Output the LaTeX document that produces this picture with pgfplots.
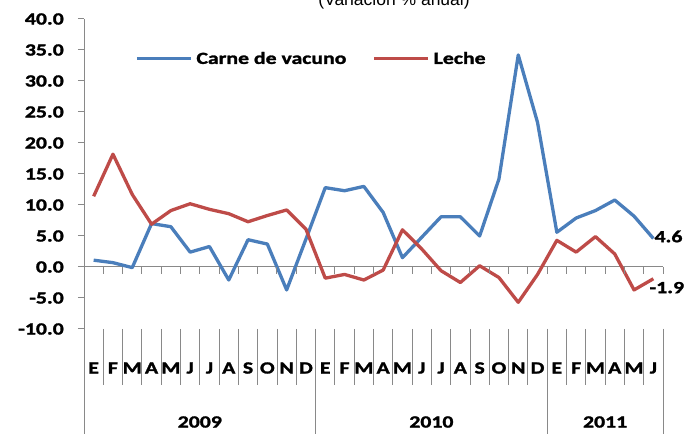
\documentclass[border=0pt]{standalone}
\usepackage{pgfplots}
\pgfplotsset{compat=1.18}
\usepackage{fontspec}
\setmainfont{Carlito}
\newfontfamily\lbl[FakeStretch=1.28, BoldFeatures={FakeBold=1.6}]{Carlito}
\newfontfamily\ttl{Liberation Sans}
\usetikzlibrary{calc}
\newcommand\lblfont{\lbl\bfseries\fontsize{17bp}{20bp}\selectfont}
\definecolor{axgray}{HTML}{898989}
\definecolor{cblue}{HTML}{4A7EBB}
\definecolor{cred}{HTML}{BE4B48}

\pgfplotstableread{
i carne leche
0 1.1 11.4
1 0.7 18.2
2 -0.1 11.7
3 7.0 6.9
4 6.5 9.1
5 2.4 10.2
6 3.3 9.3
7 -2.1 8.6
8 4.4 7.3
9 3.7 8.3
10 -3.7 9.2
11 4.5 6.1
12 12.8 -1.8
13 12.3 -1.2
14 13.0 -2.1
15 8.8 -0.5
16 1.5 6.0
17 4.8 2.9
18 8.1 -0.6
19 8.1 -2.5
20 5.0 0.2
21 14.2 -1.7
22 34.2 -5.7
23 23.3 -1.2
24 5.6 4.3
25 7.9 2.4
26 9.1 4.9
27 10.8 2.1
28 8.2 -3.7
29 4.6 -1.9
}\datatable

\begin{document}
\begin{tikzpicture}
\useasboundingbox (0,0) rectangle (684bp,434bp);
\node[anchor=base, font=\ttl\fontsize{17.5bp}{20bp}\selectfont] at (394bp,428bp) {(Variación \% anual)};
\begin{axis}[
  at={(84bp,105bp)}, anchor=south west,
  scale only axis, width=579bp, height=310bp,
  xmin=-0.5, xmax=29.5, ymin=-10, ymax=40,
  axis x line=none, axis y line*=left,
  axis line style={-, draw=axgray, line width=1bp},
  xtick=\empty,
  ytick={-10,-5,...,40},
  yticklabels={-10.0,-5.0,0.0,5.0,10.0,15.0,20.0,25.0,30.0,35.0,40.0},
  ytick style={draw=axgray, line width=1bp},
  tick align=outside, major tick length=6bp,
  yticklabel style={font=\lblfont, inner xsep=0pt, xshift=-14bp},
  clip=false,
  legend style={at={(0.088,0.872)}, anchor=west, draw=none, fill=none,
    inner sep=0pt, font=\lblfont, legend columns=2,
    /tikz/every even column/.append style={column sep=22bp},
    nodes={inner xsep=4bp}},
  legend image code/.code={\draw[#1] (0bp,0bp) -- (54bp,0bp);},
]
\coordinate (Z0) at (axis cs:-0.5,0);
\coordinate (Z1) at (axis cs:29.5,0);
\draw[axgray, line width=1bp] (Z0) -- (Z1);
\addplot[cblue, line width=3.3bp, line join=round] table[x=i, y=carne] {\datatable};
\addlegendentry{Carne de vacuno}
\addplot[cred, line width=3.3bp, line join=round] table[x=i, y=leche] {\datatable};
\addlegendentry{Leche}
\node[font=\lblfont, anchor=west, inner sep=0pt, yshift=2bp, xshift=1bp] at (axis cs:29,4.6) {4.6};
\node[font=\lblfont, anchor=north west, inner sep=0pt, yshift=-3bp, xshift=-4bp] at (axis cs:29,-1.9) {-1.9};
\end{axis}
\foreach \j in {0,...,30} {
  \draw[axgray, line width=1bp] ($(Z0)!\j/30!(Z1)$) -- ++(0,-7bp);
  \draw[axgray, line width=1bp] ({84bp+19.3bp*\j},105bp) -- ({84bp+19.3bp*\j},49bp);
}
\foreach \j in {0,12,24,30} {
  \draw[axgray, line width=1bp] ({84bp+19.3bp*\j},105bp) -- ({84bp+19.3bp*\j},0bp);
}
\foreach \m [count=\i from 0] in {E,F,M,A,M,J,J,A,S,O,N,D,E,F,M,A,M,J,J,A,S,O,N,D,E,F,M,A,M,J} {
  \node[font=\lblfont, inner sep=0pt] at ({84bp+19.3bp*(\i+0.5)},66bp) {\m};
}
\node[font=\lblfont, inner sep=0pt] at ({84bp+19.3bp*6},12bp) {2009};
\node[font=\lblfont, inner sep=0pt] at ({84bp+19.3bp*18},12bp) {2010};
\node[font=\lblfont, inner sep=0pt] at ({84bp+19.3bp*27},12bp) {2011};
\end{tikzpicture}
\end{document}
